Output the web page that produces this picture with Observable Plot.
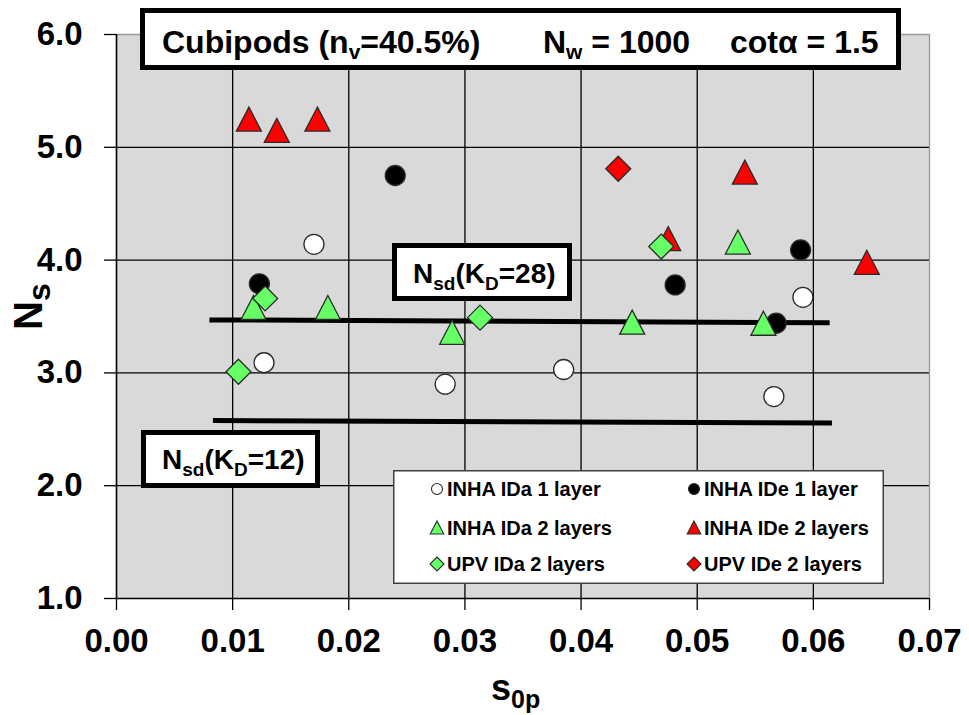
<!DOCTYPE html>
<html>
<head>
<meta charset="utf-8">
<script src="https://cdn.jsdelivr.net/npm/d3@7"></script>
<script src="https://cdn.jsdelivr.net/npm/@observablehq/plot@0.6"></script>
<style>
  html, body { margin: 0; padding: 0; background: #fff; }
</style>
</head>
<body>
<div id="chart"></div>
<script>
// Stability number Ns against wave steepness s0p, Cubipods on a 1:1.5 slope

// Axis ticks
const xTicks = [0.00, 0.01, 0.02, 0.03, 0.04, 0.05, 0.06, 0.07];
const yTicks = [1, 2, 3, 4, 5, 6];

// INHA IDa 1 layer
const inhaIDa1_s = [0.0170, 0.0127, 0.0283, 0.0385, 0.0591, 0.0566];
const inhaIDa1_N = [4.14, 3.09, 2.90, 3.03, 3.67, 2.79];
// INHA IDe 1 layer
const inhaIDe1_s = [0.0240, 0.0123, 0.0481, 0.0589, 0.0568];
const inhaIDe1_N = [4.75, 3.79, 3.78, 4.09, 3.44];
// INHA IDa 2 layers
const inhaIDa2_s = [0.0118, 0.0182, 0.0289, 0.0444, 0.0535, 0.0557];
const inhaIDa2_N = [3.58, 3.58, 3.36, 3.45, 4.16, 3.44];
// INHA IDe 2 layers
const inhaIDe2_s = [0.0114, 0.0138, 0.0173, 0.0541, 0.0646, 0.0475];
const inhaIDe2_N = [5.25, 5.15, 5.25, 4.78, 3.98, 4.19];
// UPV IDa 2 layers
const upvIDa2_s = [0.0105, 0.0128, 0.0313, 0.0469];
const upvIDa2_N = [3.01, 3.66, 3.49, 4.12];
// UPV IDe 2 layers
const upvIDe2_s = [0.0432];
const upvIDe2_N = [4.81];

// Design stability lines Nsd for KD = 28 and KD = 12
const nsd28_s = [0.0080, 0.0614];
const nsd28_N = [3.470, 3.445];
const nsd12_s = [0.0083, 0.0616];
const nsd12_N = [2.577, 2.556];

// Marker shapes, centred on their bounding box
const circleSym = {
  draw(ctx, size) {
    const r = Math.sqrt(size / Math.PI);
    ctx.moveTo(r, 0);
    ctx.arc(0, 0, r, 0, 2 * Math.PI);
  }
};
const triangleSym = {
  draw(ctx, size) {
    const r = Math.sqrt(size / Math.PI);
    const w = r * 1.04;
    ctx.moveTo(0, -r);
    ctx.lineTo(w, r);
    ctx.lineTo(-w, r);
    ctx.closePath();
  }
};
const diamondSym = {
  draw(ctx, size) {
    const r = Math.sqrt(size / Math.PI);
    ctx.moveTo(0, -r);
    ctx.lineTo(r, 0);
    ctx.lineTo(0, r);
    ctx.lineTo(-r, 0);
    ctx.closePath();
  }
};

const GREEN = "#66ff66";
const RED = "#ff0000";
const OUTLINE = "#2a2a2a";

const series = [
  {name: "INHA IDa 1 layer",  s: inhaIDa1_s, N: inhaIDa1_N, symbol: circleSym,   fill: "#ffffff", r: 10,   lr: 5.5},
  {name: "INHA IDe 1 layer",  s: inhaIDe1_s, N: inhaIDe1_N, symbol: circleSym,   fill: "#000000", r: 10,   lr: 5.5},
  {name: "INHA IDa 2 layers", s: inhaIDa2_s, N: inhaIDa2_N, symbol: triangleSym, fill: GREEN,     r: 12,   lr: 6.5},
  {name: "INHA IDe 2 layers", s: inhaIDe2_s, N: inhaIDe2_N, symbol: triangleSym, fill: RED,       r: 12,   lr: 6.5},
  {name: "UPV IDa 2 layers",  s: upvIDa2_s,  N: upvIDa2_N,  symbol: diamondSym,  fill: GREEN,     r: 12.5, lr: 7},
  {name: "UPV IDe 2 layers",  s: upvIDe2_s,  N: upvIDe2_N,  symbol: diamondSym,  fill: RED,       r: 12.5, lr: 7}
];

const toRows = (s, N) => s.map((v, i) => ({s: v, N: N[i]}));

const FONT = "'Liberation Sans', Arial, Helvetica, sans-serif";

const plot = Plot.plot({
  width: 969,
  height: 715,
  marginLeft: 116,
  marginRight: 40,
  marginTop: 34,
  marginBottom: 117,
  style: {fontFamily: FONT, fontWeight: "bold", background: "#fff", color: "#000", overflow: "visible"},
  x: {domain: [0, 0.07], label: null},
  y: {domain: [1, 6], label: null},
  marks: [
    Plot.frame({fill: "#d9d9d9", stroke: null}),
    Plot.gridX(xTicks.slice(1, -1), {stroke: "#000", strokeOpacity: 1, strokeWidth: 1.3}),
    Plot.gridY(yTicks.slice(1, -1), {stroke: "#000", strokeOpacity: 1, strokeWidth: 1.3}),
    Plot.ruleY([6], {stroke: "#9a9a9a", strokeWidth: 1.3}),
    Plot.ruleX([0.07], {stroke: "#9a9a9a", strokeWidth: 1.3}),
    Plot.axisX({ticks: xTicks, tickFormat: d => d.toFixed(2), tickSize: 12, tickPadding: 18,
                fontSize: 33, fontWeight: "bold", label: null, stroke: "#000", strokeWidth: 1.3}),
    Plot.axisY({ticks: yTicks, tickFormat: d => d.toFixed(1), tickSize: 12, tickPadding: 22,
                fontSize: 33, fontWeight: "bold", label: null, stroke: "#000", strokeWidth: 1.3}),
    Plot.ruleX([0], {stroke: "#000", strokeWidth: 1.6}),
    Plot.ruleY([1], {stroke: "#000", strokeWidth: 1.6}),
    Plot.line(toRows(nsd28_s, nsd28_N), {x: "s", y: "N", stroke: "#000", strokeWidth: 5, strokeLinecap: "butt"}),
    Plot.line(toRows(nsd12_s, nsd12_N), {x: "s", y: "N", stroke: "#000", strokeWidth: 5, strokeLinecap: "butt"}),
    ...series.map(d => Plot.dot(toRows(d.s, d.N), {
      x: "s", y: "N", symbol: d.symbol, r: d.r,
      fill: d.fill, stroke: OUTLINE, strokeWidth: 1.3
    }))
  ]
});

document.getElementById("chart").appendChild(plot);

// Annotation layer: boxed labels, axis titles and legend
const svg = d3.select(plot);
const layer = svg.append("g")
  .attr("font-family", FONT)
  .attr("font-weight", "bold")
  .attr("text-anchor", "start")
  .attr("fill", "#000");

// parts: [text, isSubscript]
function richText(g, x, y, parts, size, subSize, shift, attrs = {}) {
  const t = g.append("text").attr("x", x).attr("y", y).attr("font-size", size).attr("text-anchor", "start");
  for (const [k, v] of Object.entries(attrs)) t.attr(k, v);
  let down = false;
  for (const [txt, sub] of parts) {
    const ts = t.append("tspan").text(txt);
    if (sub && !down) { ts.attr("dy", shift).attr("font-size", subSize); down = true; }
    else if (sub) { ts.attr("font-size", subSize); }
    else if (down) { ts.attr("dy", -shift); down = false; }
  }
  return t;
}

function box(g, x0, y0, x1, y1, sw, stroke) {
  g.append("rect")
    .attr("x", x0 + sw / 2).attr("y", y0 + sw / 2)
    .attr("width", x1 - x0 - sw).attr("height", y1 - y0 - sw)
    .attr("fill", "#fff").attr("stroke", stroke).attr("stroke-width", sw);
}

// Header box
box(layer, 140, 8, 901, 70, 5, "#000");
richText(layer, 162, 53, [["Cubipods (n", false], ["v", true], ["=40.5%)", false]], 32, 21, 6);
richText(layer, 543, 53, [["N", false], ["w", true], [" = 1000", false]], 32, 21, 6);
richText(layer, 730, 53, [["cot\u03b1 = 1.5", false]], 32, 21, 6);

// Nsd labels
box(layer, 392, 243, 572, 301, 5, "#000");
richText(layer, 413, 283, [["N", false], ["sd", true], ["(K", false], ["D", true], ["=28)", false]], 28, 19, 7);
box(layer, 141, 430, 320, 488, 5, "#000");
richText(layer, 162, 469, [["N", false], ["sd", true], ["(K", false], ["D", true], ["=12)", false]], 28, 19, 7);

// Axis titles
richText(layer, 491, 700, [["s", false], ["0p", true]], 36, 25, 8);
richText(layer, 0, 0, [["N", false], ["s", true]], 40, 32, 8, {transform: "translate(42,330) rotate(-90)"});

// Legend
box(layer, 393, 470, 884, 584, 1.5, "#404040");
const legendCols = [437, 694];
const legendRows = [489, 527.5, 564];
series.forEach((d, i) => {
  const cx = legendCols[i % 2], cy = legendRows[Math.floor(i / 2)];
  layer.append("path")
    .attr("d", d3.symbol(d.symbol, Math.PI * d.lr * d.lr)())
    .attr("transform", `translate(${cx},${cy})`)
    .attr("fill", d.fill).attr("stroke", OUTLINE).attr("stroke-width", 1.1);
  layer.append("text")
    .attr("x", cx + 10).attr("y", cy + 7)
    .attr("font-size", 20)
    .attr("text-anchor", "start")
    .text(d.name);
});
</script>
</body>
</html>
